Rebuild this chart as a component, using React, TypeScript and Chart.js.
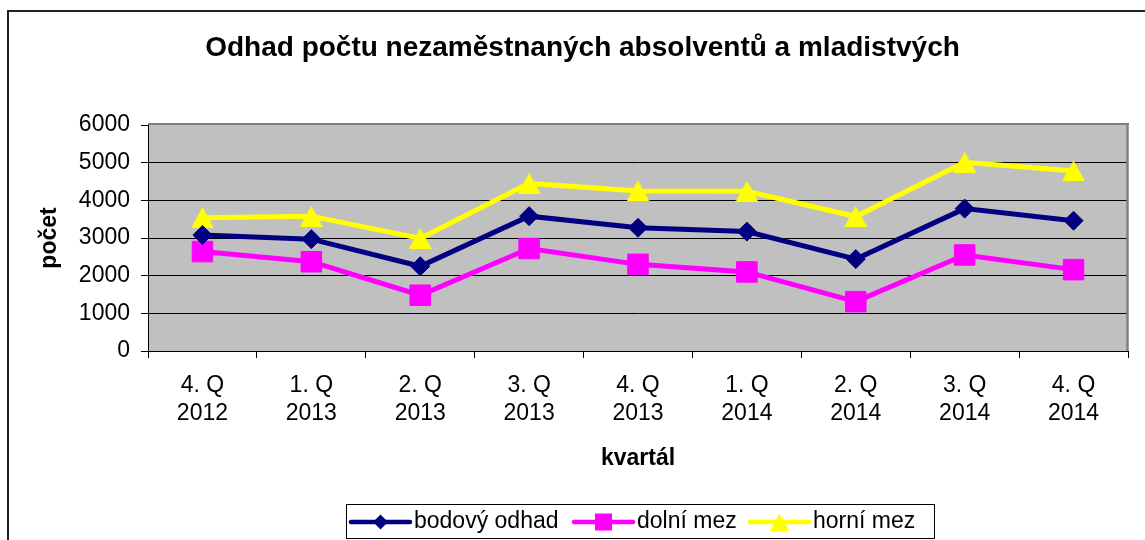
import React, { useEffect, useRef } from "react";
import { Chart, registerables } from "chart.js";

Chart.register(...registerables);

// ---- data ----
const categories: string[][] = [
  ["4. Q", "2012"],
  ["1. Q", "2013"],
  ["2. Q", "2013"],
  ["3. Q", "2013"],
  ["4. Q", "2013"],
  ["1. Q", "2014"],
  ["2. Q", "2014"],
  ["3. Q", "2014"],
  ["4. Q", "2014"],
];
const seriesNames = ["bodový odhad", "dolní mez", "horní mez"];
const bodovyOdhad = [3080, 2970, 2250, 3580, 3270, 3170, 2440, 3780, 3460];
const dolniMez = [2640, 2370, 1480, 2720, 2300, 2100, 1310, 2550, 2160];
const horniMez = [3540, 3580, 2990, 4450, 4250, 4240, 3570, 5010, 4780];
const yMin = 0;
const yMax = 6000;
const yStep = 1000;
const chartTitle = "Odhad počtu nezaměstnaných absolventů a mladistvých";
const xAxisTitle = "kvartál";
const yAxisTitle = "počet";

const FONT = 'Arial, "Liberation Sans", sans-serif';
const NAVY = "#000080";
const MAGENTA = "#FF00FF";
const YELLOW = "#FFFF00";

function makeTriangle(w: number, h: number, color: string): HTMLCanvasElement {
  const c = document.createElement("canvas");
  c.width = w;
  c.height = h;
  const g = c.getContext("2d")!;
  g.fillStyle = color;
  g.beginPath();
  g.moveTo(w / 2, 0);
  g.lineTo(w, h);
  g.lineTo(0, h);
  g.closePath();
  g.fill();
  return c;
}

export default function App() {
  const ref = useRef<HTMLCanvasElement | null>(null);

  useEffect(() => {
    if (!ref.current) return;
    const triBig = makeTriangle(23, 21, YELLOW);
    const triSmall = makeTriangle(19, 17, YELLOW);

    const decor = {
      id: "decor",
      beforeDraw(chart: any) {
        const { ctx, chartArea } = chart;
        ctx.save();
        // outer frame (extends beyond right/bottom edges)
        ctx.strokeStyle = "#222";
        ctx.lineWidth = 2;
        ctx.beginPath();
        ctx.moveTo(8, chart.height + 5);
        ctx.lineTo(8, 11);
        ctx.lineTo(chart.width + 5, 11);
        ctx.stroke();
        // plot background
        ctx.fillStyle = "#C0C0C0";
        ctx.fillRect(
          chartArea.left,
          chartArea.top,
          chartArea.right - chartArea.left,
          chartArea.bottom - chartArea.top
        );
        // title
        ctx.fillStyle = "#000";
        ctx.font = `bold 28px ${FONT}`;
        ctx.textAlign = "center";
        ctx.textBaseline = "alphabetic";
        ctx.fillText(chartTitle, chart.width / 2 + 10, 56);
        ctx.restore();
      },
      beforeDatasetsDraw(chart: any) {
        const { ctx, chartArea } = chart;
        ctx.save();
        ctx.strokeStyle = "#808080";
        ctx.lineWidth = 2;
        ctx.beginPath();
        ctx.moveTo(chartArea.left, chartArea.top - 1);
        ctx.lineTo(chartArea.right + 1, chartArea.top - 1);
        ctx.stroke();
        ctx.lineWidth = 2.5;
        ctx.beginPath();
        ctx.moveTo(chartArea.right - 0.5, chartArea.top - 2);
        ctx.lineTo(chartArea.right - 0.5, chartArea.bottom);
        ctx.stroke();
        ctx.restore();
      },
      afterDraw(chart: any) {
        const { ctx, chartArea } = chart;
        const cx = (chartArea.left + chartArea.right) / 2;
        const boxW = 588;
        const boxL = cx - boxW / 2 + 2;
        const boxT = 504;
        const boxH = 34;
        const midY = boxT + boxH / 2 + 1;
        ctx.save();
        ctx.fillStyle = "#fff";
        ctx.fillRect(boxL, boxT, boxW, boxH);
        ctx.strokeStyle = "#000";
        ctx.lineWidth = 1;
        ctx.strokeRect(Math.round(boxL) + 0.5, boxT + 0.5, boxW, boxH);
        const offsets = [5, 228, 404];
        const colors = [NAVY, MAGENTA, YELLOW];
        chart.data.datasets.forEach((ds: any, i: number) => {
          const x0 = boxL + offsets[i];
          const len = 59;
          ctx.strokeStyle = colors[i];
          ctx.lineWidth = 4.5;
          ctx.lineCap = "round";
          ctx.beginPath();
          ctx.moveTo(x0, midY);
          ctx.lineTo(x0 + len, midY);
          ctx.stroke();
          const mx = x0 + len / 2;
          ctx.fillStyle = colors[i];
          if (i === 0) {
            const r = 7.5;
            ctx.beginPath();
            ctx.moveTo(mx - r, midY);
            ctx.lineTo(mx, midY - r);
            ctx.lineTo(mx + r, midY);
            ctx.lineTo(mx, midY + r);
            ctx.closePath();
            ctx.fill();
          } else if (i === 1) {
            const h = 8.5;
            ctx.fillRect(mx - h, midY - h, 2 * h, 2 * h);
          } else {
            ctx.drawImage(triSmall, mx - triSmall.width / 2, midY - triSmall.height / 2);
          }
          ctx.fillStyle = "#000";
          ctx.font = `23px ${FONT}`;
          ctx.textAlign = "left";
          ctx.textBaseline = "middle";
          ctx.fillText(ds.label, x0 + len + 4, midY);
        });
        ctx.restore();
      },
    };

    const chart = new Chart(ref.current, {
      type: "line",
      data: {
        labels: categories,
        datasets: [
          {
            label: seriesNames[0],
            data: bodovyOdhad,
            borderColor: NAVY,
            backgroundColor: NAVY,
            borderWidth: 5,
            pointStyle: "rectRot",
            pointRadius: 9.5,
            pointBorderWidth: 1,
            pointBackgroundColor: NAVY,
            pointBorderColor: NAVY,
            tension: 0,
          },
          {
            label: seriesNames[1],
            data: dolniMez,
            borderColor: MAGENTA,
            backgroundColor: MAGENTA,
            borderWidth: 5,
            pointStyle: "rect",
            pointRadius: 14.5,
            pointBorderWidth: 1,
            pointBackgroundColor: MAGENTA,
            pointBorderColor: MAGENTA,
            tension: 0,
          },
          {
            label: seriesNames[2],
            data: horniMez,
            borderColor: YELLOW,
            backgroundColor: YELLOW,
            borderWidth: 5,
            pointStyle: triBig as any,
            pointRadius: 12,
            tension: 0,
          },
        ],
      },
      options: {
        responsive: false,
        animation: false,
        devicePixelRatio: 1,
        layout: { padding: { left: 8, right: 9, top: 125, bottom: 68 } },
        plugins: {
          legend: { display: false },
          title: { display: false },
          tooltip: { enabled: false },
        },
        scales: {
          x: {
            type: "category",
            offset: true,
            grid: {
              display: true,
              drawOnChartArea: false,
              drawTicks: true,
              tickLength: 7,
              tickColor: "#000",
              color: "#000",
              offset: true,
            },
            border: { display: true, color: "#000", width: 1 },
            ticks: {
              color: "#000",
              font: { family: FONT, size: 23, lineHeight: 1.25 },
              padding: 13,
              maxRotation: 0,
              autoSkip: false,
            },
            title: {
              display: true,
              text: xAxisTitle,
              color: "#000",
              font: { family: FONT, size: 23, weight: "bold", lineHeight: 1.2 },
              padding: { top: 0, bottom: 0 },
            },
            afterFit: (s: any) => {
              s.height = 121;
            },
          },
          y: {
            min: yMin,
            max: yMax,
            ticks: {
              stepSize: yStep,
              color: "#000",
              font: { family: FONT, size: 23 },
              padding: 11,
              callback: (v: any) => String(v),
            },
            grid: {
              color: (c: any) =>
                c.tick && c.tick.value === yMax ? "rgba(0,0,0,0)" : "#000",
              tickColor: "#000",
              tickLength: 7,
              lineWidth: 1,
            },
            border: { display: true, color: "#000", width: 1 },
            title: {
              display: true,
              text: yAxisTitle,
              color: "#000",
              font: { family: FONT, size: 23, weight: "bold", lineHeight: 1.2 },
              padding: { top: 28, bottom: 0 },
            },
            afterFit: (s: any) => {
              s.width = 140;
            },
          },
        },
      },
      plugins: [decor],
    } as any);

    return () => chart.destroy();
  }, []);

  return (
    <div style={{ position: "absolute", left: 0, top: 0, width: 1145, height: 540, background: "#fff" }}>
      <canvas ref={ref} width={1145} height={540} style={{ display: "block" }} />
    </div>
  );
}
